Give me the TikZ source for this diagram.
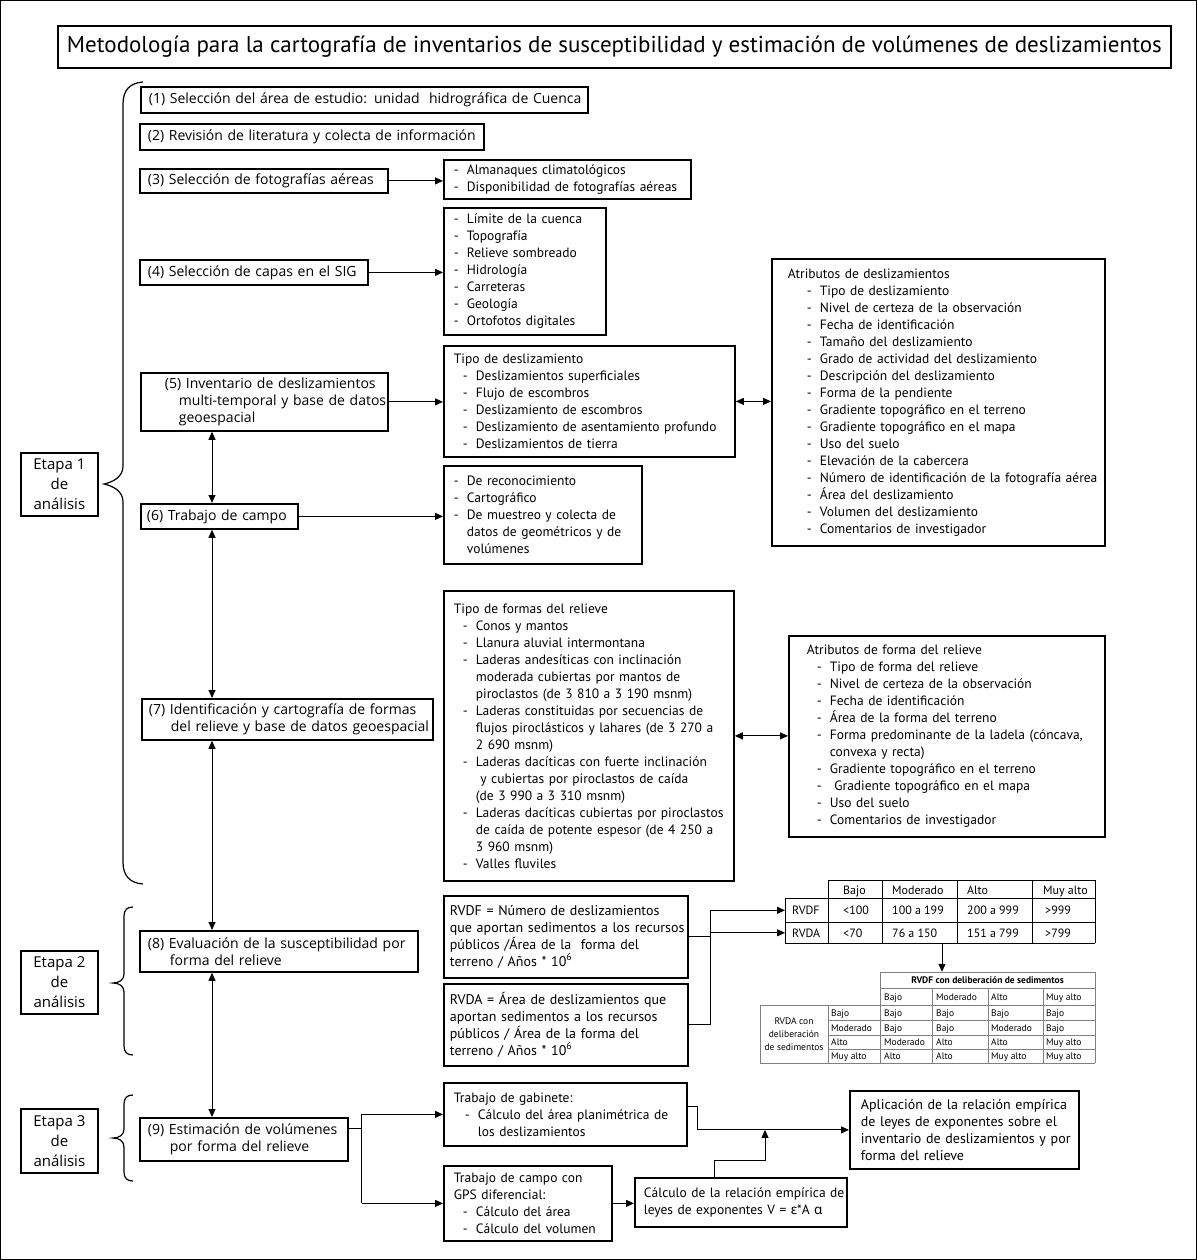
\documentclass[tikz,border=0pt]{standalone}
\usepackage{fontspec}
\setmainfont{PT Sans}
\newfontfamily\pasosfont{Open Sans}
\newfontfamily\griego{Noto Sans}
\usetikzlibrary{arrows.meta,positioning}
\definecolor{gristabla}{gray}{0.5}
\newcommand{\cuerpo}{\fontsize{13.5}{17}\selectfont}
\newcommand{\grande}{\fontsize{14}{16.8}\selectfont}
\newcommand{\pasos}{\pasosfont\fontsize{14}{17}\selectfont}
\newcommand{\etapas}{\pasosfont\fontsize{15}{20}\selectfont}
\newcommand{\titulo}{\fontsize{23}{26}\selectfont}
\newcommand{\tablauno}{\fontsize{12}{15}\selectfont}
\newcommand{\tablados}{\fontsize{9.5}{13}\selectfont}
\newcommand{\linea}[1]{\mbox{#1}}
\newcommand{\guion}[2][0pt]{\mbox{\hspace*{#1}\makebox[13pt][l]{-}#2}}
\newcommand{\sigue}[2][0pt]{\mbox{\hspace*{#1}\hspace*{13pt}#2}}
\newcommand{\sangria}[2]{\mbox{\hspace*{#1}#2}}
\begin{document}
\begin{tikzpicture}[x=1pt,y=-1pt,>={Triangle[length=8pt,width=7pt]}]
\tikzstyle{every node}+=[inner sep=0pt]
\tikzstyle{caja}=[draw,line width=1.8pt,anchor=north west,align=left,font=\cuerpo]
\tikzstyle{paso}=[caja,font=\pasos]
\tikzstyle{etapa}=[draw,line width=1.8pt,anchor=north west,align=center,font=\etapas]
\tikzstyle{conector}=[line width=1pt]
\tikzstyle{llave}=[line width=1.2pt]
\tikzstyle{celdauno}=[anchor=base west,font=\tablauno]
\tikzstyle{celdados}=[anchor=base west,font=\tablados]
\useasboundingbox (0,0) rectangle (1197,1260);
\draw[line width=1.2pt] (0.6,0.6) rectangle (1196.4,1259.4);
% titulo
\node[draw,line width=1.8pt,anchor=north west,minimum width=1113pt,minimum height=42pt,font=\titulo] (titulo) at (57,25) {Metodología para la cartografía de inventarios de susceptibilidad y estimación de volúmenes de deslizamientos};
% etapas y llaves
\node[etapa,minimum width=77pt,minimum height=63pt] (etapa1) at (20,452) {Etapa 1\\de\\análisis};
\node[etapa,minimum width=77pt,minimum height=63pt] (etapa2) at (20,950) {Etapa 2\\de\\análisis};
\node[etapa,minimum width=77pt,minimum height=64pt] (etapa3) at (20,1108) {Etapa 3\\de\\análisis};
\draw[llave] (143,82) .. controls (130,83) and (123,90) .. (123,104) -- (123,466) .. controls (123,477) and (113,482) .. (104,484) .. controls (113,486) and (123,491) .. (123,502) -- (123,862) .. controls (123,876) and (130,883) .. (143,884);
\draw[llave] (133,907) .. controls (127,907) and (124,910) .. (124,916) -- (124,974) .. controls (124,980) and (119,983) .. (113,983) .. controls (119,983) and (124,986) .. (124,992) -- (124,1046) .. controls (124,1052) and (127,1055) .. (133,1055);
\draw[llave] (133,1095) .. controls (127,1095) and (124,1098) .. (124,1104) -- (124,1129) .. controls (124,1135) and (119,1138) .. (113,1138) .. controls (119,1138) and (124,1141) .. (124,1147) -- (124,1172) .. controls (124,1178) and (127,1181) .. (133,1181);
% pasos
\node[paso,inner xsep=8pt,text width=431pt,minimum width=447pt,minimum height=26pt] (paso1) at (140,86) {\linea{(1) Selección del área de estudio: unidad\ \ hidrográfica de Cuenca}};
\node[paso,inner xsep=8pt,text width=328pt,minimum width=344pt,minimum height=26pt] (paso2) at (139,123) {\linea{(2) Revisión de literatura y colecta de información}};
\node[paso,inner xsep=8pt,text width=232pt,minimum width=248pt,minimum height=24pt] (paso3) at (139,168) {\linea{(3) Selección de fotografías aéreas}};
\node[paso,inner xsep=8pt,text width=212pt,minimum width=228pt,minimum height=25pt] (paso4) at (139,259) {\linea{(4) Selección de capas en el SIG}};
\node[paso,inner xsep=24pt,text width=199pt,minimum width=247pt,minimum height=58pt] (paso5) at (140,372) {\linea{(5) Inventario de deslizamientos}\\\sangria{14pt}{multi-temporal y base de datos}\\\sangria{14pt}{geoespacial}};
\node[paso,inner xsep=6pt,text width=145pt,minimum width=157pt,minimum height=25pt] (paso6) at (140,503) {\linea{(6) Trabajo de campo}};
\node[paso,inner xsep=7pt,text width=277pt,minimum width=291pt,minimum height=41pt] (paso7) at (141,698) {\linea{(7) Identificación y cartografía de formas}\\\sangria{22pt}{del relieve y base de datos geoespacial}};
\node[paso,inner xsep=8pt,text width=262pt,minimum width=278pt,minimum height=41pt] (paso8) at (139,930) {\linea{(8) Evaluación de la susceptibilidad por}\\\sangria{22pt}{forma del relieve}};
\node[paso,inner xsep=8pt,text width=192pt,minimum width=208pt,minimum height=43pt] (paso9) at (139,1117) {\linea{(9) Estimación de volúmenes}\\\sangria{22pt}{por forma del relieve}};
% cajas de detalle
\node[caja,inner xsep=10pt,text width=227pt,minimum width=247pt,minimum height=39pt] (almanaques) at (443,159) {\guion{Almanaques climatológicos}\\\guion{Disponibilidad de fotografías aéreas}};
\node[caja,inner xsep=10pt,text width=142pt,minimum width=162pt,minimum height=127pt] (capas) at (443,207) {\guion{Límite de la cuenca}\\\guion{Topografía}\\\guion{Relieve sombreado}\\\guion{Hidrología}\\\guion{Carreteras}\\\guion{Geología}\\\guion{Ortofotos digitales}};
\node[caja,inner xsep=10pt,text width=271pt,minimum width=291pt,minimum height=111pt] (tipodesl) at (443,345) {\linea{Tipo de deslizamiento}\\\guion[9pt]{Deslizamientos superficiales}\\\guion[9pt]{Flujo de escombros}\\\guion[9pt]{Deslizamiento de escombros}\\\guion[9pt]{Deslizamiento de asentamiento profundo}\\\guion[9pt]{Deslizamientos de tierra}};
\node[caja,inner xsep=10pt,text width=178pt,minimum width=198pt,minimum height=98pt] (reconoc) at (443,465) {\guion{De reconocimiento}\\\guion{Cartográfico}\\\guion{De muestreo y colecta de}\\\sigue{datos de geométricos y de}\\\sigue{volúmenes}};
\node[caja,inner xsep=16pt,text width=301pt,minimum width=333pt,minimum height=287pt] (atribdesl) at (771,258) {\linea{Atributos de deslizamientos}\\\guion[19pt]{Tipo de deslizamiento}\\\guion[19pt]{Nivel de certeza de la observación}\\\guion[19pt]{Fecha de identificación}\\\guion[19pt]{Tamaño del deslizamiento}\\\guion[19pt]{Grado de actividad del deslizamiento}\\\guion[19pt]{Descripción del deslizamiento}\\\guion[19pt]{Forma de la pendiente}\\\guion[19pt]{Gradiente topográfico en el terreno}\\\guion[19pt]{Gradiente topográfico en el mapa}\\\guion[19pt]{Uso del suelo}\\\guion[19pt]{Elevación de la cabercera}\\\guion[19pt]{Número de identificación de la fotografía aérea}\\\guion[19pt]{Área del deslizamiento}\\\guion[19pt]{Volumen del deslizamiento}\\\guion[19pt]{Comentarios de investigador}};
\node[caja,inner xsep=10pt,text width=270pt,minimum width=290pt,minimum height=290pt] (tipoformas) at (443,590) {\linea{Tipo de formas del relieve}\\\guion[9pt]{Conos y mantos}\\\guion[9pt]{Llanura aluvial intermontana}\\\guion[9pt]{Laderas andesíticas con inclinación}\\\sigue[9pt]{moderada cubiertas por mantos de}\\\sigue[9pt]{piroclastos (de 3 810 a 3 190 msnm)}\\\guion[9pt]{Laderas constituidas por secuencias de}\\\sigue[9pt]{flujos piroclásticos y lahares (de 3 270 a}\\\sigue[9pt]{2 690 msnm)}\\\guion[9pt]{Laderas dacíticas con fuerte inclinación}\\\sigue[9pt]{\ y cubiertas por piroclastos de caída}\\\sigue[9pt]{(de 3 990 a 3 310 msnm)}\\\guion[9pt]{Laderas dacíticas cubiertas por piroclastos}\\\sigue[9pt]{de caída de potente espesor (de 4 250 a}\\\sigue[9pt]{3 960 msnm)}\\\guion[9pt]{Valles fluviles}};
\node[caja,inner xsep=18pt,text width=280pt,minimum width=316pt,minimum height=201pt] (atribformas) at (788,635) {\linea{Atributos de forma del relieve}\\\guion[10pt]{Tipo de forma del relieve}\\\guion[10pt]{Nivel de certeza de la observación}\\\guion[10pt]{Fecha de identificación}\\\guion[10pt]{Área de la forma del terreno}\\\guion[10pt]{Forma predominante de la ladela (cóncava,}\\\sigue[10pt]{convexa y recta)}\\\guion[10pt]{Gradiente topográfico en el terreno}\\\guion[10pt]{\ Gradiente topográfico en el mapa}\\\guion[10pt]{Uso del suelo}\\\guion[10pt]{Comentarios de investigador}};
\node[caja,font=\grande,inner xsep=6pt,text width=232pt,minimum width=244pt,minimum height=82pt] (rvdf) at (443,895) {\linea{RVDF = Número de deslizamientos}\\\linea{que aportan sedimentos a los recursos}\\\linea{públicos /Área de la\ \ forma del}\\\linea{terreno / Años * 10\textsuperscript{6}}};
\node[caja,font=\grande,inner xsep=6pt,text width=232pt,minimum width=244pt,minimum height=82pt] (rvda) at (443,983) {\linea{RVDA = Área de deslizamientos que}\\\linea{aportan sedimentos a los recursos}\\\linea{públicos / Área de la forma del}\\\linea{terreno / Años * 10\textsuperscript{6}}};
\node[caja,inner xsep=10pt,text width=223pt,minimum width=243pt,minimum height=63pt] (gabinete) at (443,1082) {\linea{Trabajo de gabinete:}\\\guion[11pt]{Cálculo del área planimétrica de}\\\sigue[11pt]{los deslizamientos}};
\node[caja,inner xsep=10pt,text width=148pt,minimum width=168pt,minimum height=75pt] (gps) at (443,1165) {\linea{Trabajo de campo con}\\\linea{GPS diferencial:}\\\guion[9pt]{Cálculo del área}\\\guion[9pt]{Cálculo del volumen}};
\node[caja,inner xsep=9pt,text width=194pt,minimum width=212pt,minimum height=49pt] (calculo) at (634,1177) {\linea{Cálculo de la relación empírica de}\\\linea{leyes de exponentes V = {\griego ε}*A {\griego α}}};
\node[caja,font=\grande,inner xsep=11pt,text width=207pt,minimum width=229pt,minimum height=78pt] (aplicacion) at (849,1090) {\linea{Aplicación de la relación empírica}\\\linea{de leyes de exponentes sobre el}\\\linea{inventario de deslizamientos y por}\\\linea{forma del relieve}};
% tabla de umbrales
\draw[line width=0.8pt] (828,880) -- (1095,880) (785,898) -- (1095,898) (785,922) -- (1095,922) (785,943) -- (1095,943);
\draw[line width=0.8pt] (785,898) -- (785,943) (828,880) -- (828,943) (882,880) -- (882,943) (957,880) -- (957,943) (1032,880) -- (1032,943) (1095,880) -- (1095,943);
\node[celdauno] (u11) at (843,894) {Bajo}; \node[celdauno] (u12) at (892,894) {Moderado}; \node[celdauno] (u13) at (967,894) {Alto}; \node[celdauno] (u14) at (1043,894) {Muy alto};
\node[celdauno,inner xsep=7pt] (t1rvdf) at (785,914.5) {RVDF}; \node[celdauno] (u21) at (843,914.5) {<100}; \node[celdauno] (u22) at (892,914.5) {100 a 199}; \node[celdauno] (u23) at (967,914.5) {200 a 999}; \node[celdauno] (u24) at (1045,914.5) {>999};
\node[celdauno,inner xsep=7pt] (t1rvda) at (785,937) {RVDA}; \node[celdauno] (u31) at (843,937) {<70}; \node[celdauno] (u32) at (892,937) {76 a 150}; \node[celdauno] (u33) at (967,937) {151 a 799}; \node[celdauno] (u34) at (1045,937) {>799};
\coordinate (t1abajo) at (942,943);
% tabla de susceptibilidad
\draw[gristabla,line width=0.6pt] (880,972) -- (1095,972) (880,988) -- (1095,988) (760,1005) -- (1095,1005) (828,1020) -- (1095,1020) (828,1035) -- (1095,1035) (828,1049) -- (1095,1049) (760,1063) -- (1095,1063);
\draw[gristabla,line width=0.6pt] (760,1005) -- (760,1063) (828,1005) -- (828,1063) (880,972) -- (880,1063) (932,988) -- (932,1063) (988,988) -- (988,1063) (1043,988) -- (1043,1063) (1095,972) -- (1095,1063);
\node[font=\tablados\bfseries,minimum width=215pt,minimum height=16pt] (t2titulo) at (987.5,980) {RVDF con deliberación de sedimentos};
\node[celdados] (d01) at (884,1000) {Bajo}; \node[celdados] (d02) at (936,1000) {Moderado}; \node[celdados] (d03) at (991,1000) {Alto}; \node[celdados] (d04) at (1046,1000) {Muy alto};
\node[font=\tablados,align=center] (t2rvda) at (794,1034) {RVDA con\\deliberación\\de sedimentos};
\node[celdados] (d10) at (831,1016) {Bajo}; \node[celdados] (d11) at (884,1016) {Bajo}; \node[celdados] (d12) at (936,1016) {Bajo}; \node[celdados] (d13) at (991,1016) {Bajo}; \node[celdados] (d14) at (1046,1016) {Bajo};
\node[celdados] (d20) at (831,1031) {Moderado}; \node[celdados] (d21) at (884,1031) {Bajo}; \node[celdados] (d22) at (936,1031) {Bajo}; \node[celdados] (d23) at (991,1031) {Moderado}; \node[celdados] (d24) at (1046,1031) {Bajo};
\node[celdados] (d30) at (831,1045.5) {Alto}; \node[celdados] (d31) at (884,1045.5) {Moderado}; \node[celdados] (d32) at (936,1045.5) {Alto}; \node[celdados] (d33) at (991,1045.5) {Alto}; \node[celdados] (d34) at (1046,1045.5) {Muy alto};
\node[celdados] (d40) at (831,1059.5) {Muy alto}; \node[celdados] (d41) at (884,1059.5) {Alto}; \node[celdados] (d42) at (936,1059.5) {Alto}; \node[celdados] (d43) at (991,1059.5) {Muy alto}; \node[celdados] (d44) at (1046,1059.5) {Muy alto};
% conectores
\coordinate (eje) at (212,0);
\draw[conector,<->] (eje |- paso5.south) -- (eje |- paso6.north);
\draw[conector,<->] (eje |- paso6.south) -- (eje |- paso7.north);
\draw[conector,<->] (eje |- paso7.south) -- (eje |- paso8.north);
\draw[conector,<->] (eje |- paso8.south) -- (eje |- paso9.north);
\draw[conector,->] (paso3.east) -- (paso3.east -| almanaques.west);
\draw[conector,->] (paso4.east) -- (paso4.east -| capas.west);
\draw[conector,->] (paso5.east) -- (paso5.east -| tipodesl.west);
\draw[conector,->] (paso6.east) -- (paso6.east -| reconoc.west);
\draw[conector,<->] (tipodesl.east) -- (tipodesl.east -| atribdesl.west);
\draw[conector,<->] (tipoformas.east) -- (tipoformas.east -| atribformas.west);
\draw[conector,->] (rvdf.east) -- ++(22,0) |- (t1rvdf.west);
\draw[conector,->] (rvda.east) -- ++(22,0) |- (t1rvda.west);
\draw[conector,->] (t1abajo) -- (t1abajo |- t2titulo.north);
\draw[conector] ([yshift=11pt]paso9.east) -- ++(13,0) coordinate (reparto);
\draw[conector,->] (reparto |- gabinete.west) -- (gabinete.west);
\draw[conector] (reparto |- gabinete.west) -- (reparto |- gps.west);
\draw[conector,->] (reparto |- gps.west) -- (gps.west);
\draw[conector,->] (gps.east) -- (gps.east -| calculo.west);
\path (aplicacion.west) -- ++(-84,0) coordinate (union);
\draw[conector,->] ([yshift=8pt]gabinete.east) -- ++(10,0) |- (aplicacion.west);
\draw[conector,->] ([xshift=-26pt]calculo.north) -- ++(0,-17) -| (union);
\end{tikzpicture}
\end{document}
